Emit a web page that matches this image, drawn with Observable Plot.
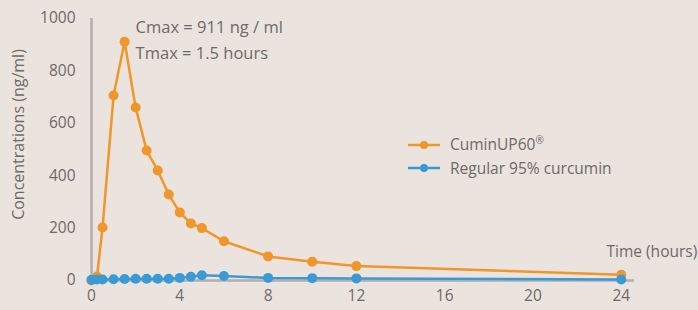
<!DOCTYPE html>
<html>
<head>
<meta charset="utf-8">
<script src="https://cdn.jsdelivr.net/npm/d3@7"></script>
<script src="https://cdn.jsdelivr.net/npm/@observablehq/plot@0.6"></script>
<style>
  html, body { margin: 0; padding: 0; background: #ebe3de; }
  #wrap { position: relative; width: 698px; height: 310px; font-family: "Open Sans", "Noto Sans", sans-serif; }
  .legend { position: absolute; left: 408px; top: 133px; font-size: 15.5px; color: #6e6a68; }
  .legend .row { display: flex; align-items: center; height: 23px; }
  .legend svg { margin-right: 10px; }
  sup { font-size: 10px; }
</style>
</head>
<body>
<div id="wrap"></div>
<script>
const times = [0, 0.25, 0.5, 1, 1.5, 2, 2.5, 3, 3.5, 4, 4.5, 5, 6, 8, 10, 12, 24];
const cuminUP60 = [0, 15, 202, 706, 911, 660, 496, 420, 328, 260, 218, 200, 150, 92, 72, 55, 22];
const regular = [3, 4, 4, 5, 6, 7, 7, 7, 7, 10, 14, 20, 17, 10, 9, 8, 4];
const seriesNames = ["CuminUP60®", "Regular 95% curcumin"];
const seriesColors = ["#f0962a", "#3a9ad6"];
const xTicks = [0, 4, 8, 12, 16, 20, 24];
const yTicks = [0, 200, 400, 600, 800, 1000];
const annotations = ["Cmax = 911 ng / ml", "Tmax = 1.5 hours"];
const peak = {t: 1.5, c: 911};

const rowsA = times.map((t, i) => ({t, c: cuminUP60[i], s: seriesNames[0]}));
const rowsB = times.map((t, i) => ({t, c: regular[i], s: seriesNames[1]}));

const textColor = "#6e6a68";
const axisColor = "#b3afac";
const fs = 15.5;

const chart = Plot.plot({
  width: 698,
  height: 310,
  marginLeft: 91,
  marginRight: 64,
  marginTop: 18,
  marginBottom: 30,
  style: {background: "transparent", fontFamily: "'Open Sans', 'Noto Sans', sans-serif", fontSize: fs + "px", color: textColor},
  x: {domain: [0, 24.6], ticks: xTicks, label: null},
  y: {domain: [0, 1000], ticks: yTicks, label: null},
  marks: [
    Plot.axisX({ticks: xTicks, tickSize: 0, tickPadding: 9, fill: textColor, fontSize: fs, label: null, tickFormat: d => String(d)}),
    Plot.axisY({ticks: yTicks, tickSize: 0, tickPadding: 16, fill: textColor, fontSize: fs, label: null, tickFormat: d => String(d)}),
    Plot.ruleX([0], {stroke: axisColor, strokeWidth: 2.5}),
    Plot.ruleY([0], {x1: 0, x2: 24.6, stroke: axisColor, strokeWidth: 2.5}),
    Plot.line(rowsA, {x: "t", y: "c", stroke: seriesColors[0], strokeWidth: 2.5}),
    Plot.dot(rowsA, {x: "t", y: "c", fill: seriesColors[0], r: 5}),
    Plot.line(rowsB, {x: "t", y: "c", stroke: seriesColors[1], strokeWidth: 2.5}),
    Plot.dot(rowsB, {x: "t", y: "c", fill: seriesColors[1], r: 5}),
    Plot.text([annotations[0]], {x: peak.t, y: 1000, text: d => d, textAnchor: "start", dx: 11, dy: 9, fill: textColor, fontSize: 16.5}),
    Plot.text([annotations[1]], {x: peak.t, y: 1000, text: d => d, textAnchor: "start", dx: 11, dy: 35, fill: textColor, fontSize: 16.5}),
    Plot.text(["Time (hours)"], {x: 24, y: 0, text: d => d, textAnchor: "end", dx: 76, dy: -28, fill: textColor, fontSize: fs}),
    Plot.text(["Concentrations (ng/ml)"], {frameAnchor: "left", text: d => d, textAnchor: "middle", rotate: -90, dx: -73, dy: -15, fill: textColor, fontSize: 16})
  ]
});

const wrap = document.getElementById("wrap");
wrap.appendChild(chart);

const legend = document.createElement("div");
legend.className = "legend";
seriesNames.forEach((name, i) => {
  const row = document.createElement("div");
  row.className = "row";
  const label = name.replace("®", "<sup>®</sup>");
  row.innerHTML = `<svg width="32" height="10"><line x1="0" y1="5" x2="32" y2="5" stroke="${seriesColors[i]}" stroke-width="2.5"/><circle cx="16" cy="5" r="4" fill="${seriesColors[i]}"/></svg><span>${label}</span>`;
  legend.appendChild(row);
});
wrap.appendChild(legend);
</script>
</body>
</html>
